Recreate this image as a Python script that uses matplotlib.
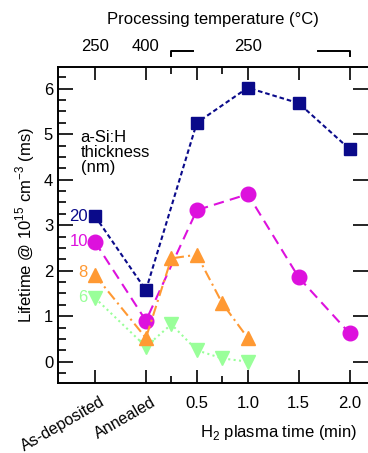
import numpy as np
import matplotlib.pyplot as plt
from matplotlib.ticker import FixedLocator, MultipleLocator

plt.rcParams['font.family'] = ['Liberation Sans', 'DejaVu Sans']
plt.rcParams['mathtext.fontset'] = 'custom'
plt.rcParams['mathtext.rm'] = 'Liberation Sans'

# x positions: As-deposited = -0.5, Annealed = 0, then H2 plasma time (min)
x20 = [-0.5, 0.0, 0.5, 1.0, 1.5, 2.0]
y20 = [3.20, 1.57, 5.25, 6.02, 5.68, 4.67]
x10 = [-0.5, 0.0, 0.5, 1.0, 1.5, 2.0]
y10 = [2.63, 0.90, 3.33, 3.68, 1.85, 0.62]
x8 = [-0.5, 0.0, 0.25, 0.5, 0.75, 1.0]
y8 = [1.90, 0.52, 2.27, 2.35, 1.28, 0.52]
x6 = [-0.5, 0.0, 0.25, 0.5, 0.75, 1.0]
y6 = [1.40, 0.33, 0.82, 0.25, 0.07, 0.00]

bottom_ticks = [-0.5, 0.0, 0.5, 1.0, 1.5, 2.0]
bottom_labels = ['As-deposited', 'Annealed', '0.5', '1.0', '1.5', '2.0']
top_ticks = [-0.5, 0.0, 0.5, 1.0, 1.5, 2.0]
top_labels = ['250', '400', '', '250', '', '']

c20 = '#0a0a8a'
c10 = '#dd11dd'
c8 = '#ff9933'
c6 = '#99ff99'

fs = 12

fig = plt.figure(figsize=(3.68, 4.53), dpi=100)
ax = fig.add_axes([0.1576, 0.1545, 0.8424, 0.698])

ax.plot(x20, y20, ls=(0, (2.2, 1.4)), color=c20, lw=1.5, marker='s', ms=9, zorder=4)
ax.plot(x10, y10, ls=(0, (5, 3)), color=c10, lw=1.5, marker='o', ms=10.5, zorder=3)
ax.plot(x8, y8, ls=(0, (5, 2, 1, 2)), color=c8, lw=1.5, marker='^', ms=10.5, zorder=3)
ax.plot(x6, y6, ls=(0, (1, 1.6)), color=c6, lw=1.5, marker='v', ms=10.5, zorder=2)

ax.set_xlim(-0.863, 2.18)
ax.set_ylim(-0.47, 6.48)

# series labels
ax.text(-0.57, 3.19, '20', color=c20, fontsize=fs, ha='right', va='center')
ax.text(-0.57, 2.64, '10', color=c10, fontsize=fs, ha='right', va='center')
ax.text(-0.57, 1.95, '8', color=c8, fontsize=fs, ha='right', va='center')
ax.text(-0.57, 1.40, '6', color=c6, fontsize=fs, ha='right', va='center')
ax.text(-0.64, 4.6, 'a-Si:H\nthickness\n(nm)', fontsize=fs, ha='left', va='center',
        linespacing=1.0)

ax.spines['right'].set_visible(False)
for s in ['left', 'top', 'bottom']:
    ax.spines[s].set_linewidth(1.4)

# numeric labels as tick labels, the two sample states as rotated texts
ax.set_xticks(bottom_ticks)
ax.set_xticklabels([''] * 2 + bottom_labels[2:], fontsize=fs)
ax.xaxis.set_minor_locator(FixedLocator([0.25, 0.75]))
xtrans = ax.get_xaxis_transform()
for xt, lab in zip(bottom_ticks[:2], bottom_labels[:2]):
    ax.text(xt + 0.05, -0.036, lab, transform=xtrans, fontsize=11.6, rotation=30,
            ha='right', va='top', rotation_mode='anchor')
ax.tick_params(axis='x', which='major', direction='in', length=9.5, width=1.2,
               pad=9, top=True)
ax.tick_params(axis='x', which='minor', direction='in', length=5, width=1.2, top=True)

ax.set_yticks(range(0, 7))
ax.yaxis.set_minor_locator(MultipleLocator(0.25))
ax.tick_params(axis='y', which='major', direction='in', length=11, width=1.2,
               labelsize=fs, right=True)
ax.tick_params(axis='y', which='minor', direction='in', length=6, width=1.2)

sec = ax.secondary_xaxis('top')
sec.set_xticks(top_ticks)
sec.set_xticklabels(top_labels, fontsize=fs)
sec.tick_params(direction='in', length=0, pad=9)
sec.spines['top'].set_visible(False)
sec.set_xlabel('Processing temperature (°C)', fontsize=fs, labelpad=11)

ax.set_xlabel('H$_2$ plasma time (min)', fontsize=fs)
ax.xaxis.set_label_coords(0.71, -0.155)
ax.xaxis.label.set_va('center')
ax.set_ylabel('Lifetime @ 10$^{15}$ cm$^{-3}$ (ms)', fontsize=fs, labelpad=5)

# bracket on top for the 250 °C range
ax.plot([0.25, 0.25, 0.46], [1.034, 1.05, 1.05], color='black', lw=1.4,
        transform=xtrans, clip_on=False)
ax.plot([1.69, 2.0, 2.0], [1.05, 1.05, 1.034], color='black', lw=1.4,
        transform=xtrans, clip_on=False)

fig.savefig('out.png', dpi=100)
